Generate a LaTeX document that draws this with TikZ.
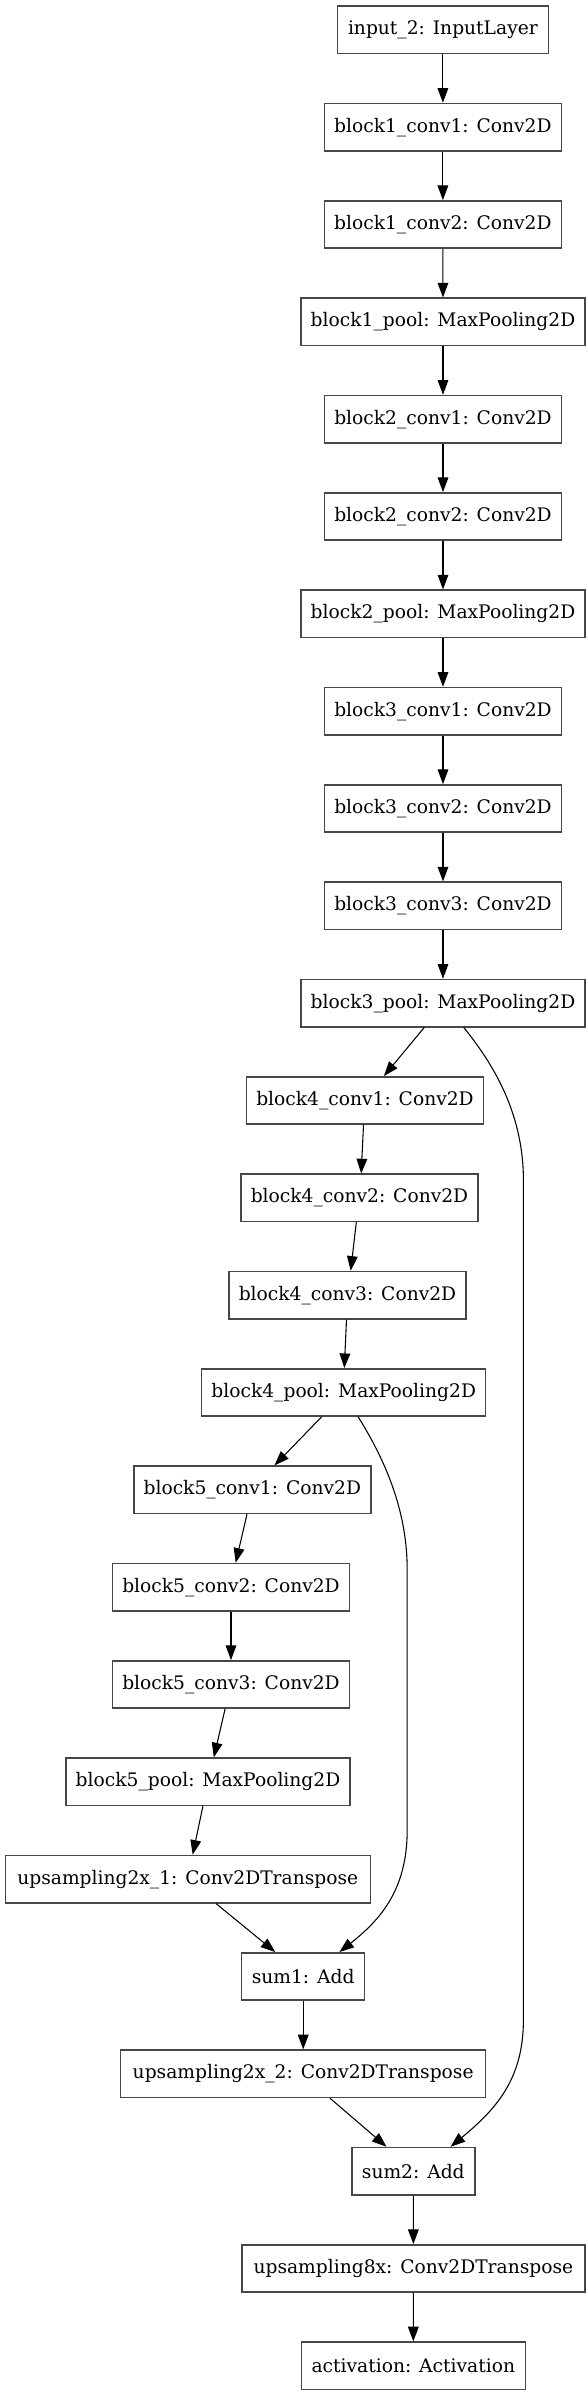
\documentclass[tikz,border=0pt]{standalone}
\usepackage{fontspec}
\setmainfont{DejaVu Serif}
\usetikzlibrary{arrows.meta,calc}
\newcommand\gvnode[5]{\node[box, minimum width=#3*0.75pt] (#1) at (#2, {29.85+97.33*#4}) {#5};}
\begin{document}
\begin{tikzpicture}[x=0.75pt,y=-0.75pt,
  box/.style={draw=black!72, line width=1.1pt, minimum height=35.5pt, inner sep=0pt,
    font=\fontsize{14}{16}\selectfont, anchor=center},
  edge/.style={draw=black, line width=0.8pt, -{Triangle[length=11pt,width=8pt]}}]
\useasboundingbox (0,0) rectangle (587,2396);
\gvnode{in}{442.9}{211}{0}{input\_2: InputLayer}
\gvnode{b1c1}{442.9}{237}{1}{block1\_conv1: Conv2D}
\gvnode{b1c2}{442.9}{237}{2}{block1\_conv2: Conv2D}
\gvnode{b1p}{443}{284}{3}{block1\_pool: MaxPooling2D}
\gvnode{b2c1}{443}{237}{4}{block2\_conv1: Conv2D}
\gvnode{b2c2}{443}{237}{5}{block2\_conv2: Conv2D}
\gvnode{b2p}{443}{284}{6}{block2\_pool: MaxPooling2D}
\gvnode{b3c1}{443}{237}{7}{block3\_conv1: Conv2D}
\gvnode{b3c2}{443}{237}{8}{block3\_conv2: Conv2D}
\gvnode{b3c3}{443}{237}{9}{block3\_conv3: Conv2D}
\gvnode{b3p}{443}{284}{10}{block3\_pool: MaxPooling2D}
\gvnode{b4c1}{365}{237}{11}{block4\_conv1: Conv2D}
\gvnode{b4c2}{359.5}{237}{12}{block4\_conv2: Conv2D}
\gvnode{b4c3}{347.5}{237}{13}{block4\_conv3: Conv2D}
\gvnode{b4p}{343.7}{284}{14}{block4\_pool: MaxPooling2D}
\gvnode{b5c1}{252.3}{237}{15}{block5\_conv1: Conv2D}
\gvnode{b5c2}{231}{237}{16}{block5\_conv2: Conv2D}
\gvnode{b5c3}{231}{237}{17}{block5\_conv3: Conv2D}
\gvnode{b5p}{208}{284}{18}{block5\_pool: MaxPooling2D}
\gvnode{up1}{187.8}{365}{19}{upsampling2x\_1: Conv2DTranspose}
\gvnode{sum1}{303.2}{123}{20}{sum1: Add}
\gvnode{up2}{303.2}{365}{21}{upsampling2x\_2: Conv2DTranspose}
\gvnode{sum2}{413.3}{123}{22}{sum2: Add}
\gvnode{up8}{413.4}{343}{23}{upsampling8x: Conv2DTranspose}
\gvnode{act}{413.3}{224}{24}{activation: Activation}
% straight chain
\draw[edge] (in) -- (b1c1);
\draw[edge] (b1c1) -- (b1c2);
\draw[edge] (b1c2) -- (b1p);
\draw[edge] (b1p) -- (b2c1);
\draw[edge] (b2c1) -- (b2c2);
\draw[edge] (b2c2) -- (b2p);
\draw[edge] (b2p) -- (b3c1);
\draw[edge] (b3c1) -- (b3c2);
\draw[edge] (b3c2) -- (b3c3);
\draw[edge] (b3c3) -- (b3p);
\draw[edge] ($(b3p.south)+(-18.8,0)$) -- ($(b4c1.north)+(18.9,0)$);
\draw[edge] ($(b4c1.south)+(-1.5,0)$) -- ($(b4c2.north)+(1.7,0)$);
\draw[edge] ($(b4c2.south)+(-3.2,0)$) -- ($(b4c3.north)+(3.2,0)$);
\draw[edge] ($(b4c3.south)+(-1,0)$) -- ($(b4p.north)+(0.6,0)$);
\draw[edge] ($(b4p.south)+(-22.1,0)$) -- ($(b5c1.north)+(22.2,0)$);
\draw[edge] ($(b5c1.south)+(-5.3,0)$) -- ($(b5c2.north)+(4.7,0)$);
\draw[edge] (b5c2) -- (b5c3);
\draw[edge] ($(b5c3.south)+(-5.9,0)$) -- ($(b5p.north)+(5.8,0)$);
\draw[edge] ($(b5p.south)+(-5.1,0)$) -- ($(up1.north)+(4.9,0)$);
\draw[edge] ($(up1.south)+(28.2,0)$) -- ($(sum1.north)+(-27.9,0)$);
\draw[edge] (sum1) -- (up2);
\draw[edge] ($(up2.south)+(26.8,0)$) -- ($(sum2.north)+(-26.8,0)$);
\draw[edge] (sum2) -- (up8);
\draw[edge] (up8) -- (act);
% skip connections
\draw[edge] ($(b4p.south)+(14.5,0)$) .. controls (385,1460) and (407.2,1510) .. (407.2,1570)
  -- (407.2,1830) .. controls (407.2,1890) and (380,1920) .. ($(sum1.north)+(36.2,0)$);
\draw[edge] ($(b3p.south)+(20.8,0)$) .. controls (490,1060) and (523.4,1110) .. (523.4,1180)
  -- (523.4,2020) .. controls (523.4,2080) and (495,2110) .. ($(sum2.north)+(37.3,0)$);
\end{tikzpicture}
\end{document}
